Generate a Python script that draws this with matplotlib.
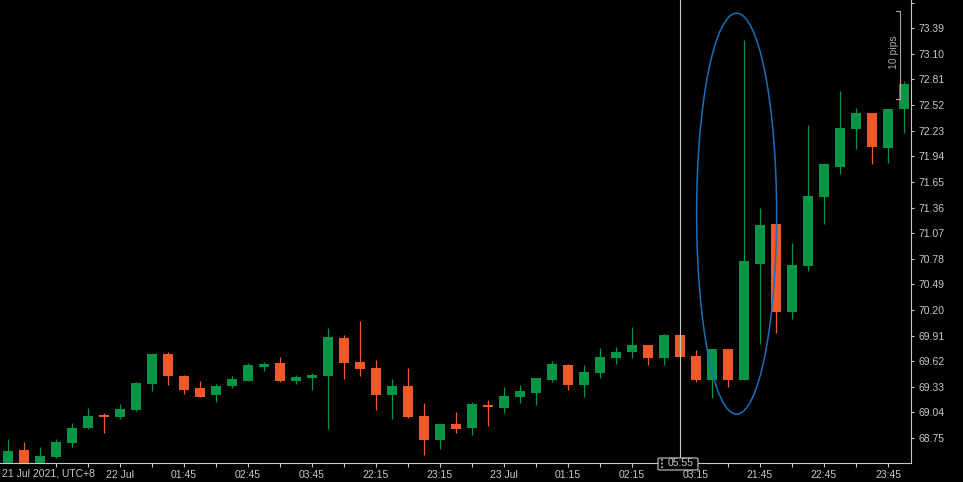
import matplotlib
matplotlib.use("Agg")
import matplotlib.pyplot as plt
from matplotlib.patches import Ellipse, FancyBboxPatch
from matplotlib.lines import Line2D

plt.rcParams['font.family'] = ['Liberation Sans', 'DejaVu Sans']

# OHLC, one candle per slot
opens = [68.444, 68.614, 68.444, 68.538, 68.697, 68.867, 69.010, 68.991, 69.070, 69.365,
         69.701, 69.452, 69.316, 69.240, 69.342, 69.396, 69.557, 69.599, 69.399, 69.430,
         69.456, 69.883, 69.611, 69.543, 69.237, 69.339, 68.999, 68.727, 68.909, 68.863,
         69.124, 69.090, 69.214, 69.260, 69.407, 69.577, 69.350, 69.486, 69.656, 69.724,
         69.803, 69.659, 69.916, 69.679, 69.407, 69.758, 69.407, 70.724, 71.174, 70.180,
         70.701, 71.483, 71.823, 72.253, 72.431, 72.038, 72.476]
closes = [68.603, 68.444, 68.546, 68.705, 68.863, 68.999, 68.991, 69.078, 69.373, 69.701,
          69.456, 69.297, 69.218, 69.342, 69.418, 69.577, 69.588, 69.396, 69.441, 69.463,
          69.894, 69.603, 69.531, 69.237, 69.339, 68.988, 68.727, 68.909, 68.852, 69.135,
          69.101, 69.226, 69.282, 69.430, 69.588, 69.350, 69.497, 69.667, 69.724, 69.803,
          69.659, 69.916, 69.667, 69.407, 69.758, 69.407, 70.754, 71.162, 70.180, 70.709,
          71.491, 71.853, 72.261, 72.431, 72.049, 72.476, 72.759]
highs = [68.739, 68.705, 68.648, 68.739, 68.920, 69.090, 69.033, 69.135, 69.388, 69.713,
         69.724, 69.463, 69.396, 69.362, 69.452, 69.599, 69.611, 69.667, 69.463, 69.486,
         69.996, 69.916, 70.075, 69.633, 69.418, 69.543, 69.143, 68.909, 69.041, 69.158,
         69.180, 69.328, 69.350, 69.430, 69.622, 69.588, 69.577, 69.769, 69.781, 70.007,
         69.803, 69.928, 69.916, 69.747, 69.758, 69.758, 73.257, 71.355, 71.174, 70.955,
         72.295, 71.868, 72.680, 72.487, 72.431, 72.476, 72.793]
lows = [68.420, 68.420, 68.420, 68.527, 68.648, 68.852, 68.807, 68.965, 69.059, 69.282,
        69.350, 69.248, 69.218, 69.158, 69.316, 69.396, 69.512, 69.384, 69.362, 69.297,
        68.852, 69.422, 69.456, 69.070, 68.969, 68.980, 68.561, 68.629, 68.810, 68.787,
        68.889, 69.037, 69.150, 69.127, 69.384, 69.294, 69.218, 69.433, 69.588, 69.659,
        69.580, 69.580, 69.667, 69.388, 69.206, 69.331, 69.407, 69.811, 69.936, 70.094,
        70.638, 71.170, 71.736, 72.026, 71.850, 71.861, 72.208]

time_labels = {7: '22 Jul', 11: '01:45', 15: '02:45', 19: '03:45', 23: '22:15',
               27: '23:15', 31: '23 Jul', 35: '01:15', 39: '02:15', 43: '03:15',
               47: '21:45', 51: '22:45', 55: '23:45'}
price_ticks = [round(68.75 + 0.29 * k, 2) for k in range(18)]
cursor_slot = 42
cursor_label = '05:55'

UP = '#079647'
DOWN = '#f05a28'
AXIS = '#c8c8c8'
TEXT = '#c8c8c8'

W, H = 963, 482
fig = plt.figure(figsize=(W / 100, H / 100), dpi=100, facecolor='black')
ax = fig.add_axes([0, 19 / H, 911 / W, 463 / H])
ax.set_facecolor('black')

xs = list(range(len(opens)))
colors = [UP if c >= o else DOWN for o, c in zip(opens, closes)]
ax.vlines(xs, lows, highs, colors=colors, lw=0.9, zorder=2)
heights = [max(abs(c - o), 0.012) for o, c in zip(opens, closes)]
bottoms = [min(o, c) for o, c in zip(opens, closes)]
ax.bar(xs, heights, bottom=bottoms, width=0.68, color=colors, lw=0, zorder=3)

ax.set_xlim(-0.5, 56.44)
ax.set_ylim(68.467, 73.71)

# axes look
for s in ['left', 'top']:
    ax.spines[s].set_visible(False)
for s in ['right', 'bottom']:
    ax.spines[s].set_color(AXIS)
    ax.spines[s].set_linewidth(0.8)

ax.yaxis.tick_right()
ax.set_yticks(price_ticks)
ax.set_yticklabels(['%.2f' % p for p in price_ticks[:-1]] + [''])
ax.tick_params(axis='y', direction='out', length=2.5, width=0.8, color=AXIS,
               labelcolor=TEXT, labelsize=7.5, pad=3)

xt = list(range(3, 57, 2))
ax.set_xticks(xt)
ax.set_xticklabels([time_labels.get(i, '') for i in xt])
ax.tick_params(axis='x', direction='out', length=3, width=0.8, color=AXIS,
               labelcolor=TEXT, labelsize=7.5, pad=2)
fig.text(2 / W, 1 - 473 / H, '21 Jul 2021, UTC+8', color=TEXT, fontsize=7.5,
         ha='left', va='center')

# crosshair
ax.axvline(cursor_slot, color=AXIS, lw=0.8, zorder=4)

# highlight ellipse
ax.add_patch(Ellipse((45.54, 71.29), 5.0, 4.54, fill=False, edgecolor='#1a6fb8',
                     lw=1.1, zorder=5))

# 10 pips scale bar
ax.plot([55.5, 55.75, 55.75, 55.5], [73.589, 73.589, 72.593, 72.593],
        color='#a8a8a8', lw=0.8, zorder=5)
ax.text(55.35, 73.12, '10 pips', rotation=90, color='#a8a8a8', fontsize=7.5,
        ha='center', va='center', zorder=5)

# cursor time box
box = FancyBboxPatch((658 / W, 1 - 470 / H), 40 / W, 12 / H,
                     boxstyle='round,pad=0,rounding_size=0.002',
                     transform=fig.transFigure, facecolor='black',
                     edgecolor=AXIS, lw=0.8, zorder=10)
fig.add_artist(box)
fig.add_artist(Line2D([662 / W, 662 / W], [1 - 468 / H, 1 - 459 / H],
                      transform=fig.transFigure, color=AXIS, lw=1.2,
                      linestyle=(0, (1, 1.2)), zorder=11))
fig.text(681 / W, 1 - 463.5 / H, cursor_label, color=TEXT, fontsize=7.5,
         ha='center', va='center', zorder=11)

fig.savefig('out.png', dpi=100, facecolor='black')
